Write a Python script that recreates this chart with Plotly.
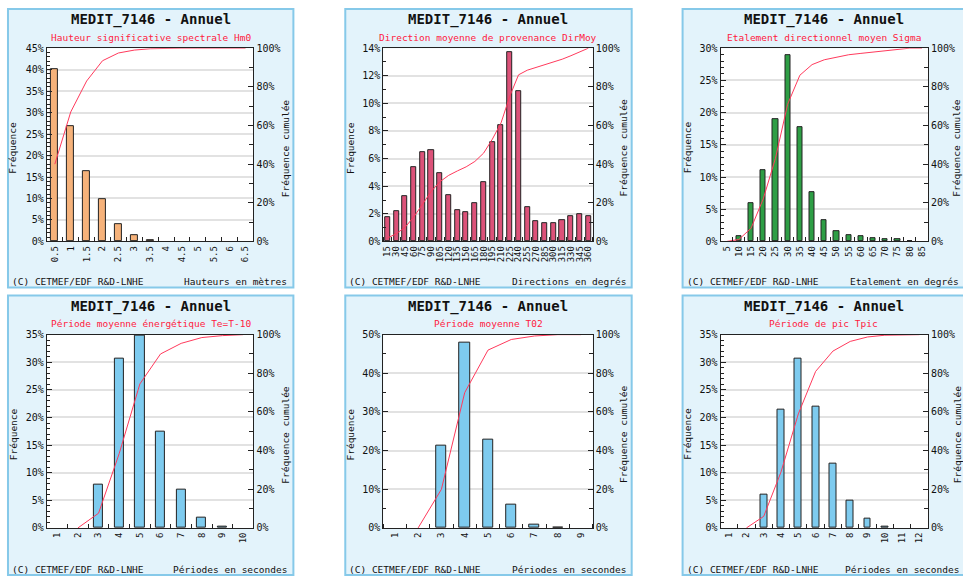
import plotly.graph_objects as go

# ---------------- data ----------------
hm0_labels = ["0.5", "1", "1.5", "2", "2.5", "3", "3.5", "4", "4.5", "5", "5.5", "6", "6.5"]
hm0_freq = [40.0, 26.8, 16.4, 9.9, 4.1, 1.4, 0.3, 0, 0, 0, 0, 0, 0]
hm0_cum = [40.0, 67.0, 83.0, 93.5, 97.5, 99.0, 99.7, 100, 100, 100, 100, 100, 100]

dir_labels = ["15", "30", "45", "60", "75", "90", "105", "120", "135", "150", "165", "180",
              "195", "210", "225", "240", "255", "270", "285", "300", "315", "330", "345", "360"]
dir_freq = [1.75, 2.2, 3.3, 5.4, 6.45, 6.6, 4.95, 3.35, 2.25, 2.1, 2.75, 4.3,
            7.2, 8.4, 13.7, 10.85, 2.45, 1.45, 1.35, 1.35, 1.55, 1.8, 2.0, 1.8]
dir_cum = [1.8, 4.0, 7.3, 12.7, 19.2, 25.9, 30.9, 34.2, 36.5, 38.6, 41.4, 45.7,
           52.9, 61.4, 75.2, 86.2, 88.6, 90.0, 91.4, 92.7, 94.3, 96.1, 98.1, 100]

sig_labels = ["5", "10", "15", "20", "25", "30", "35", "40", "45", "50", "55", "60",
              "65", "70", "75", "80", "85"]
sig_freq = [0, 0.8, 5.9, 11.0, 19.0, 28.9, 17.7, 7.7, 3.3, 1.6, 1.0, 0.8, 0.5, 0.4, 0.3, 0.1, 0]
sig_cum = [0, 1.0, 6.8, 22.0, 43.0, 71.0, 86.0, 91.5, 94.0, 95.5, 96.6, 97.3, 98.0, 98.6, 99.3, 100, 100]

te_labels = ["1", "2", "3", "4", "5", "6", "7", "8", "9", "10"]
te_freq = [0, 0, 7.9, 30.6, 34.8, 17.5, 6.9, 1.8, 0.3, 0]
te_cum = [None, 0, 7.6, 38.5, 74.5, 90.0, 95.5, 98.5, 99.5, 100]

t02_labels = ["1", "2", "3", "4", "5", "6", "7", "8", "9"]
t02_freq = [0, 0, 21.2, 48.0, 22.8, 6.0, 0.8, 0.1, 0]
t02_cum = [None, 0, 20.0, 70.0, 92.0, 97.5, 99.3, 100, 100]

tp_labels = ["1", "2", "3", "4", "5", "6", "7", "8", "9", "10", "11", "12"]
tp_freq = [0, 0, 6.1, 21.5, 30.7, 22.0, 11.6, 4.9, 1.7, 0.2, 0, 0]
tp_cum = [None, 0, 6.0, 29.0, 59.0, 81.0, 91.5, 96.5, 98.8, 99.7, 100, 100]

station_title = "MEDIT_7146 - Annuel"
subtitles = ["Hauteur significative spectrale Hm0",
             "Direction moyenne de provenance DirMoy",
             "Etalement directionnel moyen Sigma",
             "Période moyenne énergétique Te=T-10",
             "Période moyenne T02",
             "Période de pic Tpic"]
unit_texts = ["Hauteurs en mètres", "Directions en degrés", "Etalement en degrés",
              "Périodes en secondes", "Périodes en secondes", "Périodes en secondes"]
copyright_text = "(C) CETMEF/EDF R&D-LNHE"

# ---------------- styling / layout ----------------
W, H = 963, 582
FONT = "DejaVu Sans Mono"
panels = [
    # labels, freq, cum, ymax, dtick, minor, color, barwidth, border(L,T,R,B), plot(L,T,R,B)
    (hm0_labels, hm0_freq, hm0_cum, 45, 5, 1, "#F6B27A", 0.44, (7, 4, 293, 288), (46, 44, 253, 241)),
    (dir_labels, dir_freq, dir_cum, 14, 2, 1, "#DC5279", 0.58, (345, 4, 632, 288), (383, 44, 593, 241)),
    (sig_labels, sig_freq, sig_cum, 30, 5, 1, "#2E9E45", 0.42, (683, 4, 966, 288), (721, 44, 929, 241)),
    (te_labels, te_freq, te_cum, 35, 5, 1, "#7ECBEF", 0.44, (7, 296, 293, 581), (46, 336, 253, 533)),
    (t02_labels, t02_freq, t02_cum, 50, 10, 5, "#7ECBEF", 0.44, (345, 296, 632, 581), (383, 336, 593, 533)),
    (tp_labels, tp_freq, tp_cum, 35, 5, 1, "#7ECBEF", 0.40, (683, 296, 966, 581), (721, 336, 929, 533)),
]


def px(x):
    return x / W


def py(y):
    return 1 - y / H


fig = go.Figure()
shapes = []
annotations = []
layout = {}

for i, (labels, freq, cum, ymax, dtick, minor, color, bw, border, plot) in enumerate(panels):
    k = i + 1
    xa = "x" if k == 1 else f"x{k}"
    ya = "y" if k == 1 else f"y{k}"
    yr = f"y{k + 6}"
    idx = list(range(len(labels)))
    shown = [v if v > 0 else None for v in freq]

    fig.add_trace(go.Bar(x=idx, y=shown, xaxis=xa, yaxis=ya, width=bw,
                         marker=dict(color=color, line=dict(color="#222222", width=1)),
                         showlegend=False, hoverinfo="skip"))
    fig.add_trace(go.Scatter(x=idx, y=cum, xaxis=xa, yaxis=yr, mode="lines",
                             line=dict(color="#FF3A5C", width=1),
                             showlegend=False, hoverinfo="skip"))

    L, T, R, B = border
    pl, pt, pr, pb = plot
    shapes.append(dict(type="rect", xref="paper", yref="paper", layer="below",
                       x0=px(L), x1=px(R), y0=py(B), y1=py(T),
                       fillcolor="#E3F3FB", line=dict(color="#86C9E9", width=2)))
    shapes.append(dict(type="rect", xref="paper", yref="paper", layer="below",
                       x0=px(pl), x1=px(pr), y0=py(pb), y1=py(pt),
                       fillcolor="white", line=dict(width=0)))

    xkey = "xaxis" if k == 1 else f"xaxis{k}"
    ykey = "yaxis" if k == 1 else f"yaxis{k}"
    yrkey = f"yaxis{k + 6}"
    layout[xkey] = dict(domain=[px(pl), px(pr)], anchor=ya, range=[-0.5, len(labels) - 0.5],
                        tickmode="array", tickvals=idx, ticktext=labels, tickangle=-90,
                        ticks="", showgrid=False, zeroline=False, showline=True,
                        linecolor="#222222", linewidth=1, mirror=True,
                        tickfont=dict(family=FONT, size=9, color="#111"),
                        minor=dict(tickmode="linear", tick0=0.5, dtick=1, ticks="inside",
                                   ticklen=4, tickcolor="#222222", showgrid=False),
                        fixedrange=True)
    layout[ykey] = dict(domain=[py(pb), py(pt)], anchor=xa, range=[0, ymax], dtick=dtick,
                        tick0=0, ticksuffix="%", ticks="inside", ticklen=5,
                        tickcolor="#222222", showgrid=True, gridcolor="#E2E2E2",
                        gridwidth=1.5, zeroline=False, showline=True, linecolor="#222222",
                        linewidth=1, tickfont=dict(family=FONT, size=10, color="#111"),
                        minor=dict(dtick=minor, tick0=0, ticks="inside", ticklen=3,
                                   tickcolor="#222222", showgrid=False),
                        fixedrange=True)
    layout[yrkey] = dict(overlaying=ya, anchor=xa, side="right", range=[0, 100],
                         tickmode="linear", tick0=0, dtick=20, ticksuffix="%",
                         ticks="inside", ticklen=5, tickcolor="#222222", showgrid=False,
                         zeroline=False, showline=True, linecolor="#222222", linewidth=1,
                         tickfont=dict(family=FONT, size=10, color="#111"),
                         minor=dict(dtick=10, tick0=0, ticks="inside", ticklen=4,
                                    tickcolor="#222222", showgrid=False),
                         fixedrange=True)

    cx = (L + R) / 2
    annotations += [
        dict(text="<b>" + station_title + "</b>", x=px(cx), y=py(T + 11), xref="paper",
             yref="paper", showarrow=False, xanchor="center", yanchor="middle",
             font=dict(family=FONT, size=14, color="#111")),
        dict(text=subtitles[i], x=px(cx), y=py(T + 29), xref="paper", yref="paper",
             showarrow=False, xanchor="center", yanchor="middle",
             font=dict(family=FONT, size=9.5, color="#FF2040")),
        dict(text=copyright_text, x=px(L + 2), y=py(B - 6), xref="paper", yref="paper",
             showarrow=False, xanchor="left", yanchor="middle",
             font=dict(family=FONT, size=9.5, color="#111")),
        dict(text=unit_texts[i], x=px(R - 4), y=py(B - 6), xref="paper", yref="paper",
             showarrow=False, xanchor="right", yanchor="middle",
             font=dict(family=FONT, size=9.5, color="#111")),
        dict(text="Fréquence", x=px(L + 5), y=py((pt + pb) / 2 + 3), xref="paper",
             yref="paper", showarrow=False, xanchor="center", yanchor="middle",
             textangle=-90, font=dict(family=FONT, size=9.5, color="#111")),
        dict(text="Fréquence cumulée", x=px(R - 8), y=py((pt + pb) / 2 + 3), xref="paper",
             yref="paper", showarrow=False, xanchor="center", yanchor="middle",
             textangle=-90, font=dict(family=FONT, size=9.5, color="#111")),
    ]

fig.update_layout(width=W, height=H, autosize=False,
                  margin=dict(l=0, r=0, t=0, b=0, pad=0),
                  paper_bgcolor="white", plot_bgcolor="white",
                  shapes=shapes, annotations=annotations, bargap=0,
                  **layout)

fig.write_html("out.html",
               config={"displayModeBar": False, "responsive": False},
               post_script="document.documentElement.style.margin='0';"
                           "document.documentElement.style.padding='0';"
                           "document.body.style.margin='0';document.body.style.padding='0';"
                           "document.body.style.overflow='hidden';"
                           "var d=document.getElementById('{plot_id}');"
                           "d.style.position='absolute';d.style.left='0px';d.style.top='0px';")
